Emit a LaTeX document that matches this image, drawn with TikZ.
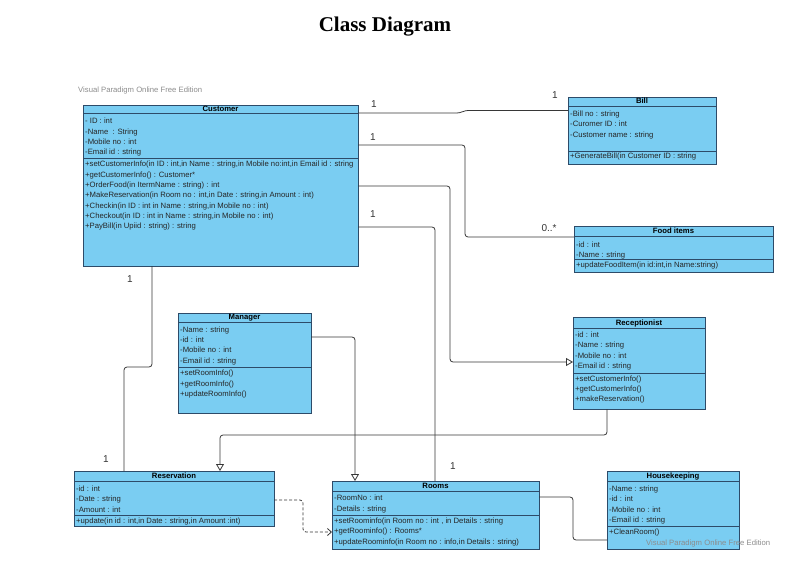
\documentclass[tikz,border=0pt]{standalone}
\usepackage{fontspec}
\setmainfont{Liberation Sans}
\newfontfamily\titlefont{Liberation Serif}
\usetikzlibrary{arrows.meta}
\definecolor{clsfill}{RGB}{122,205,242}
\definecolor{clsdraw}{RGB}{45,75,105}
\definecolor{conncol}{RGB}{55,55,55}
\definecolor{wm}{RGB}{140,140,140}
\tikzset{
 cls/.style={draw=clsdraw, fill=clsfill, line width=0.9pt, inner sep=0pt, outer sep=0pt, rectangle},
 sepline/.style={draw=clsdraw, line width=0.9pt},
 ctitle/.style={font=\fontsize{7.7}{8}\selectfont\bfseries, inner sep=0pt, text height=5.6pt, text depth=1.6pt},
 ctext/.style={font=\fontsize{7.7}{8}\selectfont, inner sep=0pt, anchor=west, text=black!85, text height=5.6pt, text depth=1.6pt},
 conn/.style={draw=conncol, line width=0.8pt, rounded corners=3pt},
 mult/.style={font=\fontsize{10}{11}\selectfont, text=black!80, inner sep=0pt},
 wmark/.style={font=\fontsize{7.7}{8}\selectfont, text=wm, inner sep=0pt, anchor=west},
 gen/.style={-{Triangle[open, length=7pt, width=8pt, fill=white]}},
 dep/.style={-{Straight Barb[length=4pt, width=7pt]}, dash pattern=on 3pt off 2pt},
}
\newcommand\umlbox[8]{%
 \node[cls, minimum width={(#4-#2)*1pt}, minimum height={(#5-#3)*1pt}] (#1) at ({(#2+#4)/2},{(#3+#5)/2}) {};
 \draw[sepline] (#2,#6) -- (#4,#6);
 \draw[sepline] (#2,#7) -- (#4,#7);
 \node[ctitle] (#1-title) at ({(#2+#4)/2},{(#3+#6)/2+0.3}) {#8};
}
\newcommand\umltext[5]{%
 \foreach \t [count=\i] in {#5} \node[ctext] (#1\i) at (#2,{#3+(\i-1)*#4}) {\t};
}
\begin{document}
\begin{tikzpicture}[x=1pt,y=-1pt]
\useasboundingbox (0,0) rectangle (791,569);
\node[font=\titlefont\bfseries\fontsize{21}{24}\selectfont, inner sep=0pt] (title) at (385,27) {Class Diagram};
\node[wmark] (wm1) at (78,91) {Visual Paradigm Online Free Edition};

% Customer
\umlbox{cust}{83}{105}{358}{266}{113}{158}{Customer}
\umltext{custa}{85}{122}{10.3}{{- ID : int},{-Name \ : String},{-Mobile no : int},{-Email id : string}}
\umltext{custm}{85}{165}{10.3}{{+setCustomerInfo(in ID : int,in Name : string,in Mobile no:int,in Email id : string},{+getCustomerInfo() : Customer*},{+OrderFood(in ItermName : string) : int},{+MakeReservation(in Room no : int,in Date : string,in Amount : int)},{+Checkin(in ID : int in Name : string,in Mobile no : int)},{+Checkout(in ID : int in Name : string,in Mobile no : int)},{+PayBill(in Upiid : string) : string}}

% Bill
\umlbox{bill}{568}{97}{716}{164}{106}{151}{Bill}
\umltext{billa}{570}{114.3}{10.4}{{-Bill no : string},{-Curomer ID : int},{-Customer name : string}}
\umltext{billm}{570}{156.8}{10.4}{{+GenerateBill(in Customer ID : string}}

% Food items
\umlbox{food}{574}{226}{773}{272}{236}{259.5}{Food items}
\umltext{fooda}{576}{245.5}{9.6}{{-id : int},{-Name : string}}
\umltext{foodm}{576}{265.7}{10}{{+updateFoodItem(in id:int,in Name:string)}}

% Manager
\umlbox{mgr}{178}{313}{311}{413}{322}{367.5}{Manager}
\umltext{mgra}{180}{330}{10.4}{{-Name : string},{-id : int},{-Mobile no : int},{-Email id : string}}
\umltext{mgrm}{180}{373.7}{10.3}{{+setRoomInfo()},{+getRoomInfo()},{+updateRoomInfo()}}

% Receptionist
\umlbox{recep}{573}{317.5}{705}{409}{328}{373}{Receptionist}
\umltext{recepa}{575}{335.5}{10.4}{{-id : int},{-Name : string},{-Mobile no : int},{-Email id : string}}
\umltext{recepm}{575}{379}{10.3}{{+setCustomerInfo()},{+getCustomerInfo()},{+makeReservation()}}

% Reservation
\umlbox{resv}{74}{471}{274}{526}{481}{515.7}{Reservation}
\umltext{resva}{76}{489.5}{10.4}{{-id : int},{-Date : string},{-Amount : int}}
\umltext{resvm}{76}{521}{10}{{+update(in id : int,in Date : string,in Amount :int)}}

% Rooms
\umlbox{rooms}{332}{481}{539}{549}{491}{515}{Rooms}
\umltext{roomsa}{334}{498.5}{10.5}{{-RoomNo : int},{-Details : string}}
\umltext{roomsm}{334}{521}{10.6}{{+setRoominfo(in Room no : int , in Details : string},{+getRoominfo() : Rooms*},{+updateRoominfo(in Room no : info,in Details : string)}}

% Housekeeping
\umlbox{hk}{607}{471}{739}{549}{481}{526.7}{Housekeeping}
\umltext{hka}{609}{489.5}{10.3}{{-Name : string},{-id : int},{-Mobile no : int},{-Email id : string}}
\umltext{hkm}{609}{532}{10}{{+CleanRoom()}}

% Connectors
\draw[conn] (cust.east |- 0,113) -- (460,113) -- (465,110.5) -- (bill.west |- 0,110.5);
\draw[conn] (cust.east |- 0,145) -- (465,145) -- (465,237) -- (food.west |- 0,237);
\draw[conn, gen] (cust.east |- 0,186) -- (450,186) -- (450,362) -- (recep.west |- 0,362);
\draw[conn] (cust.east |- 0,227) -- (435,227) -- (rooms.north -| 435,0);
\draw[conn] (cust.south -| 152,0) -- (152,367) -- (124,367) -- (resv.north -| 124,0);
\draw[conn, gen] (mgr.east |- 0,337) -- (355,337) -- (rooms.north -| 355,0);
\draw[conn, gen] (recep.south -| 607,0) -- (607,435) -- (220,435) -- (resv.north -| 220,0);
\draw[conn, dep] (resv.east |- 0,500) -- (303,500) -- (303,532) -- (rooms.west |- 0,532);
\draw[conn] (rooms.east |- 0,497) -- (573,497) -- (573,540) -- (hk.west |- 0,540);

% Multiplicities
\node[mult] (m1) at (374,104) {1};
\node[mult] (m2) at (555,95) {1};
\node[mult] (m3) at (373,137) {1};
\node[mult] (m4) at (549,228) {0..*};
\node[mult] (m5) at (373,214) {1};
\node[mult] (m6) at (453,466) {1};
\node[mult] (m7) at (130,279) {1};
\node[mult] (m8) at (106,459) {1};

\node[wmark] (wm2) at (646,544) {Visual Paradigm Online Free Edition};
\end{tikzpicture}
\end{document}
